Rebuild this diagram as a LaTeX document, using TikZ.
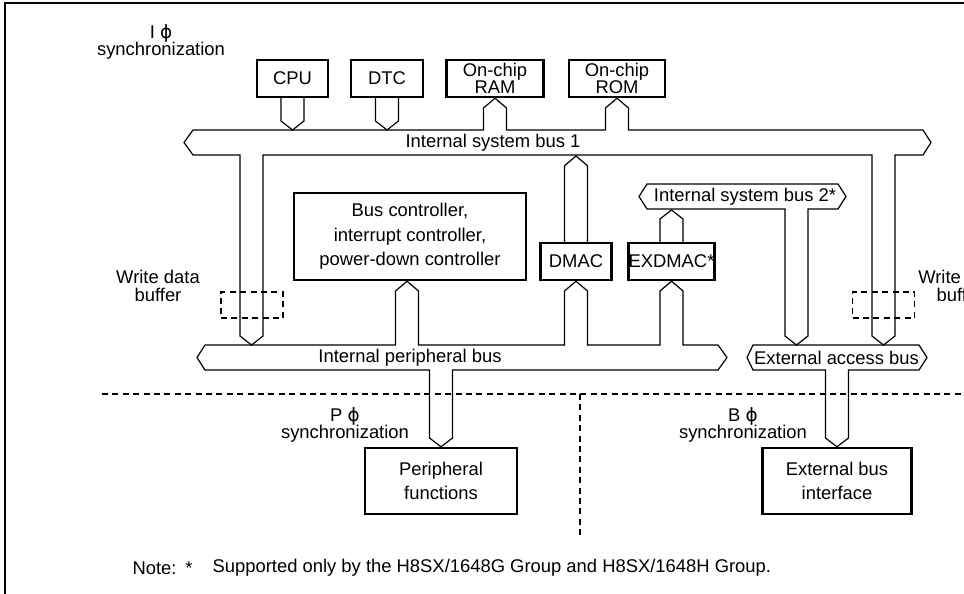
\documentclass[tikz,border=0pt]{standalone}
\usepackage{fontspec}
\setmainfont{Liberation Sans}
\newfontfamily\phifont{DejaVu Sans}
\usepackage{tikz}
\usetikzlibrary{positioning}
\tikzset{every picture/.style={line width=0.6pt}}

\begin{document}
\begin{tikzpicture}[x=0.5pt, y=-0.5pt, every node/.style={font=\fontsize{9.2}{11}\selectfont},
    box/.style={draw, line width=1.2pt, inner sep=0pt, align=center},
    bus/.style={draw, line width=0.6pt, line join=miter},
    wbuf/.style={draw, dashed, dash pattern=on 3pt off 2.2pt, minimum width=31pt, minimum height=13pt, inner sep=0pt},
    lbl/.style={align=center, inner sep=0pt, font=\fontsize{9.2}{8.6}\selectfont}]
    \useasboundingbox (0,0) rectangle (964,594);
    \clip (0,0) rectangle (964,594);
    \draw[line width=1pt] (5,594) -- (5,3) -- (964,3);

    \node[box, minimum width=35.5pt, minimum height=18.5pt] (cpu) at (292.5,78.5) {CPU};
    \node[box, minimum width=36pt, minimum height=18.5pt] (dtc) at (387,78.5) {DTC};
    \node[box, minimum width=48.5pt, minimum height=18.5pt, font=\fontsize{9.2}{8.5}\selectfont] (ram) at (495,78.5) {On-chip\\RAM};
    \node[box, minimum width=48pt, minimum height=18.5pt, font=\fontsize{9.2}{8.5}\selectfont] (rom) at (617,78.5) {On-chip\\ROM};
    \node[box, minimum width=116pt, minimum height=43.5pt, font=\fontsize{9.2}{12.2}\selectfont] (busctrl) at (410,236.5) {Bus controller,\\interrupt controller,\\power-down controller};
    \node[box, minimum width=35.5pt, minimum height=18.5pt] (dmac) at (576,261.5) {DMAC};
    \node[box, minimum width=41.5pt, minimum height=18.5pt] (exdmac) at (671.5,261.5) {EXDMAC*};
    \node[box, minimum width=76pt, minimum height=33pt, font=\fontsize{9.2}{12}\selectfont] (pf) at (441,481) {Peripheral\\functions};
    \node[box, minimum width=74.5pt, minimum height=33pt, font=\fontsize{9.2}{12}\selectfont] (ebi) at (837,481) {External bus\\interface};

    \draw[bus] (cpu.south) ++(-11.5,0) -- ++(0,22.8) -- ++(11.5,9) -- ++(11.5,-9) -- ++(0,-22.8);
    \draw[bus] (dtc.south) ++(-11.5,0) -- ++(0,22.8) -- ++(11.5,9) -- ++(11.5,-9) -- ++(0,-22.8);
    \draw[bus] (dmac.north) ++(-11.5,0) -- ++(0,-76) -- ++(11.5,-9.8) -- ++(11.5,9.8) -- ++(0,76);
    \draw[bus] (exdmac.north) ++(-11.5,0) -- ++(0,-22.8) -- ++(11.5,-9) -- ++(11.5,9) -- ++(0,22.8);

    \draw[bus] (184,142.5) -- (193,130) -- (483.5,130) -- (483.5,108) -- (ram.south) -- (506.5,108) -- (506.5,130)
        -- (605.5,130) -- (605.5,108) -- (rom.south) -- (628.5,108) -- (628.5,130) -- (923,130) -- (931,142.5)
        -- (923,155) -- (895,155) -- (895,336) -- (883.5,345) -- (872,336) -- (872,155) -- (263,155)
        -- (263,336) -- (251.5,345) -- (240,336) -- (240,155) -- (193,155) -- cycle;
    \draw[bus] (197,357.5) -- (205,345) -- (395.5,345) -- (395.5,291) -- (407,0 |- busctrl.south) -- (418.5,291)
        -- (418.5,345) -- (564.5,345) -- (564.5,291) -- (dmac.south) -- (587.5,291) -- (587.5,345) -- (660,345)
        -- (660,291) -- (exdmac.south) -- (683,291) -- (683,345) -- (718,345) -- (727,357.5) -- (718,370)
        -- (452.5,370) -- (452.5,438) -- (pf.north) -- (429.5,438) -- (429.5,370) -- (205,370) -- cycle;
    \draw[bus] (639,196.5) -- (647,184) -- (838,184) -- (846,196.5) -- (838,209) -- (808,209) -- (808,336)
        -- (796.5,345) -- (785,336) -- (785,209) -- (647,209) -- cycle;
    \draw[bus] (747,357.5) -- (753,345) -- (919,345) -- (927,357.5) -- (919,370) -- (848.5,370) -- (848.5,438)
        -- (ebi.north) -- (825.5,438) -- (825.5,370) -- (753,370) -- cycle;

    \node (isb1) at (493,142.5) {Internal system bus 1};
    \node (ipb) at (410,357.5) {Internal peripheral bus};
    \node (isb2) at (745,196.5) {Internal system bus 2*};
    \node (eab) at (836.5,357.5) {External access bus};

    \node[wbuf] (wbl) at (252,305) {};
    \node[wbuf] (wbr) at (883.5,305) {};
    \node[lbl] (wbltext) at (158,286) {Write data\\buffer};
    \node[lbl] (wbrtext) at (960,286) {Write data\\buffer};

    \node[lbl] (isync) at (161,42) {I {\phifont ϕ}\\synchronization};
    \node[lbl] (psync) at (345,425) {P {\phifont ϕ}\\synchronization};
    \node[lbl] (bsync) at (743,425) {B {\phifont ϕ}\\synchronization};

    \draw[dashed, dash pattern=on 3pt off 2.2pt] (102,394) -- (964,394);
    \draw[dashed, dash pattern=on 3pt off 2.2pt] (580,394) -- (580,537);

    \node[anchor=west, inner sep=0pt] (note) at (132,568) {Note:};
    \node[inner sep=0pt] (star) at (189,568) {*};
    \node[anchor=west, inner sep=0pt] (notetext) at (212,568) {Supported only by the H8SX/1648G Group and H8SX/1648H Group.};
\end{tikzpicture}
\end{document}
